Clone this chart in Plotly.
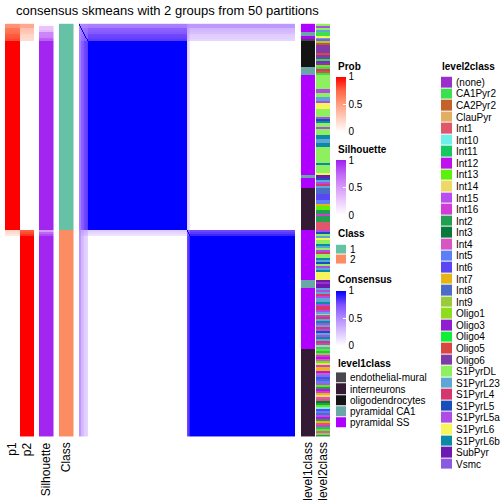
import numpy as np
import plotly.graph_objects as go

W = H = 504
FONT = "Liberation Sans, Arial, Helvetica, sans-serif"

def fx(x):
    return x / W

def fy(y):
    return 1 - y / H

# ---------------- data ----------------
title_text = "consensus skmeans with 2 groups from 50 partitions"
column_labels = ["p1", "p2", "Silhouette", "Class"]

class_names = ["1", "2"]
class_colors = ["#66C2A5", "#FC8D62"]

level1_names = ["endothelial-mural", "interneurons", "oligodendrocytes", "pyramidal CA1", "pyramidal SS"]
level1_colors = ["#4A474C", "#351A35", "#141414", "#6AA8A8", "#B000FF"]

level2_names = ["(none)", "CA1Pyr2", "CA2Pyr2", "ClauPyr", "Int1", "Int10", "Int11", "Int12", "Int13",
                "Int14", "Int15", "Int16", "Int2", "Int3", "Int4", "Int5", "Int6", "Int7", "Int8", "Int9",
                "Oligo1", "Oligo3", "Oligo4", "Oligo5", "Oligo6", "S1PyrDL", "S1PyrL23", "S1PyrL4",
                "S1PyrL5", "S1PyrL5a", "S1PyrL6", "S1PyrL6b", "SubPyr", "Vsmc"]
level2_colors = ["#9B2FCB", "#3CE04E", "#C4622A", "#E2AE64", "#E0566A", "#6EF0E8", "#14C863", "#C010EE",
                 "#5CF00A", "#F0D868", "#B84EEE", "#D03CD6", "#22A050", "#0A783A", "#D657C2", "#5A80F8",
                 "#5A46F2", "#E6B414", "#4A6EC8", "#9CCB3A", "#8EDC1E", "#8E1ED0", "#10EE38", "#D84840",
                 "#7E3CA8", "#8EF05E", "#5EA6D6", "#D4386E", "#1A4EBA", "#B04CE6", "#F6F65A", "#0A8AA6",
                 "#6C1AB0", "#8C5AE0"]

n_class1 = 104
n_class2 = 104

# samples with uncertain membership at the head of each class
p1_head_class1 = [0.55, 0.56, 0.68, 0.70, 0.72, 0.78, 0.79, 0.80, 0.82]
sil_head_class1 = [0.02, 0.30, 0.30, 0.35, 0.60, 0.60, 0.62, 0.75, 0.78]
p1_head_class2 = [0.22, 0.18, 0.12]
sil_head_class2 = [0.50, 0.75, 0.85]
sil_rest = 0.98

level1_runs = [
    ("pyramidal SS", 4), ("pyramidal CA1", 2), ("pyramidal SS", 2), ("endothelial-mural", 1),
    ("oligodendrocytes", 13), ("pyramidal CA1", 4), ("pyramidal SS", 50), ("pyramidal CA1", 2),
    ("pyramidal SS", 5), ("interneurons", 21),
    ("pyramidal SS", 25), ("pyramidal CA1", 4), ("pyramidal SS", 31), ("interneurons", 44),
]

level2_runs = [
    ("S1PyrDL", 1), ("S1PyrL5a", 1), ("S1PyrDL", 1), ("S1PyrL23", 1),
    ("CA1Pyr2", 2),
    ("S1PyrL6", 1), ("S1PyrL23", 1),
    ("Vsmc", 1),
    ("Oligo1", 1), ("Oligo5", 1), ("Oligo6", 4), ("Oligo5", 1), ("Oligo6", 2), ("Oligo4", 1),
    ("Oligo3", 1), ("Oligo6", 1), ("Oligo1", 1),
    ("CA1Pyr2", 1), ("S1PyrL4", 1), ("CA2Pyr2", 1), ("CA1Pyr2", 1),
    ("S1PyrDL", 7), ("S1PyrL5a", 2), ("S1PyrDL", 2), ("S1PyrL23", 2), ("S1PyrL5a", 1), ("S1PyrL6", 3),
    ("S1PyrDL", 4), ("S1PyrL5a", 1), ("S1PyrL5", 1), ("S1PyrL6b", 1), ("S1PyrDL", 2), ("S1PyrL5a", 1),
    ("S1PyrDL", 3), ("S1PyrL6b", 2), ("S1PyrL23", 2), ("S1PyrL6b", 2), ("S1PyrDL", 8), ("S1PyrL6b", 1),
    ("S1PyrDL", 4), ("S1PyrL6", 1),
    ("SubPyr", 2),
    ("S1PyrL5", 1), ("S1PyrL23", 1), ("S1PyrL5a", 1), ("S1PyrL4", 1), ("S1PyrL23", 1),
    ("Int8", 3), ("Int6", 3), ("Int5", 2), ("Int7", 1), ("Int13", 2), ("Int2", 2), ("Int16", 1),
    ("Int2", 3), ("Int1", 4),
    # class 2
    ("S1PyrL5a", 1), ("S1PyrL5", 1), ("S1PyrDL", 1), ("S1PyrL23", 1), ("S1PyrL6", 1), ("S1PyrDL", 2),
    ("S1PyrL6b", 1), ("S1PyrL23", 1), ("S1PyrDL", 1), ("S1PyrL5a", 1), ("S1PyrL4", 1), ("S1PyrDL", 2),
    ("S1PyrL6b", 1), ("S1PyrL23", 1), ("S1PyrL5", 1), ("S1PyrDL", 1), ("S1PyrL5a", 1), ("S1PyrL23", 1),
    ("S1PyrL6b", 1), ("S1PyrL6", 4),
    ("SubPyr", 1), ("(none)", 1), ("SubPyr", 2),
    ("S1PyrL23", 1), ("S1PyrL5a", 1), ("S1PyrL23", 1), ("S1PyrL4", 1), ("S1PyrL5a", 1), ("S1PyrL23", 2),
    ("S1PyrL6b", 1), ("S1PyrL5a", 1), ("S1PyrL4", 2), ("S1PyrL5a", 1), ("S1PyrL23", 1), ("S1PyrDL", 1),
    ("S1PyrL5a", 1), ("S1PyrL4", 1), ("S1PyrL23", 1), ("S1PyrL6b", 1), ("S1PyrL5a", 1), ("S1PyrL23", 1),
    ("S1PyrL4", 1), ("S1PyrL5a", 1), ("S1PyrL5", 1), ("S1PyrL23", 1), ("S1PyrL5a", 1), ("S1PyrL6b", 1),
    ("S1PyrL23", 1), ("S1PyrL4", 1), ("S1PyrL5a", 1), ("S1PyrDL", 1), ("S1PyrL23", 1),
    ("Int13", 1), ("Int11", 1), ("Int9", 1), ("Int16", 1), ("Int12", 1), ("Int4", 1), ("Int13", 1),
    ("Int14", 1), ("Int16", 1), ("Int7", 2), ("Int12", 1), ("Int4", 1), ("Int5", 1), ("Int6", 1),
    ("Int8", 1), ("Int5", 1), ("Int15", 1), ("Int13", 1), ("Int2", 1), ("Int12", 1), ("Int16", 1),
    ("Int7", 1), ("Int14", 1), ("Int4", 1), ("Int1", 1), ("Int3", 1), ("Int2", 1), ("Int13", 1),
    ("Int10", 1), ("Int6", 1), ("Int5", 1), ("Int8", 1), ("Int15", 1), ("Int12", 1), ("Int2", 1),
    ("Int7", 1), ("Int1", 1), ("Int16", 1), ("Int11", 1), ("Int13", 1), ("Int4", 1), ("Int9", 1),
    ("Int2", 1),
]

# ---------------- derived per-sample arrays ----------------
N = n_class1 + n_class2
p1 = np.array(p1_head_class1 + [1.0] * (n_class1 - len(p1_head_class1))
              + p1_head_class2 + [0.0] * (n_class2 - len(p1_head_class2)))
p2 = 1 - p1
sil = np.array(sil_head_class1 + [sil_rest] * (n_class1 - len(sil_head_class1))
               + sil_head_class2 + [sil_rest] * (n_class2 - len(sil_head_class2)))
cls = np.array([0] * n_class1 + [1] * n_class2)

def expand(runs, names):
    out = []
    for name, k in runs:
        out += [names.index(name)] * k
    out = (out + [out[-1]] * N)[:N]
    return np.array(out)

lv1 = expand(level1_runs, level1_names)
lv2 = expand(level2_runs, level2_names)

consensus = np.outer(p1, p1) + np.outer(p2, p2)
np.fill_diagonal(consensus, 1.0)

# ---------------- colours ----------------
red_scale = [[0, "#FFFFFF"], [0.25, "#FFCFBF"], [0.5, "#FF9E81"], [0.75, "#FF6746"], [1, "#FF0000"]]
purple_scale = [[0, "#FFFFFF"], [0.25, "#EDCDFD"], [0.5, "#D79BFA"], [0.75, "#BE66F5"], [1, "#A020F0"]]
blue_scale = [[0, "#FFFFFF"], [0.25, "#DCC5FF"], [0.5, "#B38BFF"], [0.75, "#7E51FF"], [1, "#0000FF"]]

def discrete(colors):
    k = len(colors)
    sc = []
    for i, c in enumerate(colors):
        sc.append([i / k, c])
        sc.append([(i + 1) / k, c])
    return sc

def col(v):
    return [[x] for x in v]

# ---------------- figure ----------------
TOP, BOT = 22.7, 437.5
fig = go.Figure()

columns = [  # (xaxis id, left px, right px)
    ("x", 5, 20), ("x2", 20, 34), ("x3", 39, 53.5), ("x4", 59, 73.5),
    ("x5", 79, 295), ("x6", 301, 315), ("x7", 316, 330),
]

def cbar(ytop, length):
    return dict(x=fx(336), xanchor="left", y=fy(ytop), yanchor="top", len=length, lenmode="pixels",
                thickness=10, thicknessmode="pixels", xpad=0, ypad=0, outlinewidth=0,
                tickvals=[0, 0.5, 1], ticktext=["0", "0.5", "1"], ticks="inside", tickcolor="white",
                ticklen=3, tickwidth=1, tickfont=dict(size=10, family=FONT, color="black"))

common = dict(hoverinfo="skip", y=list(range(N)))
fig.add_trace(go.Heatmap(z=col(p1), x=[0], xaxis="x", yaxis="y", colorscale=red_scale, zmin=0, zmax=1,
                         showscale=True, colorbar=cbar(76, 55), **common))
fig.add_trace(go.Heatmap(z=col(p2), x=[0], xaxis="x2", yaxis="y", colorscale=red_scale, zmin=0, zmax=1,
                         showscale=False, **common))
fig.add_trace(go.Heatmap(z=col(sil), x=[0], xaxis="x3", yaxis="y", colorscale=purple_scale, zmin=0, zmax=1,
                         showscale=True, colorbar=cbar(160, 55), **common))
fig.add_trace(go.Heatmap(z=col(cls), x=[0], xaxis="x4", yaxis="y", colorscale=discrete(class_colors),
                         zmin=-0.5, zmax=len(class_colors) - 0.5, showscale=False, **common))
fig.add_trace(go.Heatmap(z=consensus, x=list(range(N)), xaxis="x5", yaxis="y", colorscale=blue_scale,
                         zmin=0, zmax=1, showscale=True, colorbar=cbar(291, 55), **common))
fig.add_trace(go.Heatmap(z=col(lv1), x=[0], xaxis="x6", yaxis="y", colorscale=discrete(level1_colors),
                         zmin=-0.5, zmax=len(level1_colors) - 0.5, showscale=False, **common))
fig.add_trace(go.Heatmap(z=col(lv2), x=[0], xaxis="x7", yaxis="y", colorscale=discrete(level2_colors),
                         zmin=-0.5, zmax=len(level2_colors) - 0.5, showscale=False, **common))

layout = dict(
    width=W, height=H, margin=dict(l=0, r=0, t=0, b=0), paper_bgcolor="white", plot_bgcolor="white",
    font=dict(family=FONT, size=10, color="black"), showlegend=False,
    yaxis=dict(domain=[fy(BOT), fy(TOP)], range=[N - 0.5, -0.5], visible=False, anchor="x"),
)
for ax, l, r in columns:
    key = "xaxis" if ax == "x" else "xaxis" + ax[1:]
    rng = [-0.5, N - 0.5] if ax == "x5" else [-0.5, 0.5]
    layout[key] = dict(domain=[fx(l), fx(r)], range=rng, visible=False, anchor="y")

# discrete legends as small heatmaps with tick labels
legends = [  # (names, colors, xaxis, yaxis, left, right, top, bottom)
    (class_names, class_colors, "x8", "y2", 336, 346, 244.5, 264.5),
    (level1_names, level1_colors, "x9", "y3", 336, 346, 372.7, 429.3),
    (level2_names, level2_colors, "x10", "y4", 441, 452, 75.9, 470.8),
]
for names, colors, xa, ya, l, r, t, b in legends:
    k = len(names)
    fig.add_trace(go.Heatmap(z=[[i] for i in range(k)], x=[0], y=list(range(k)), xaxis=xa, yaxis=ya,
                             colorscale=discrete(colors), zmin=-0.5, zmax=k - 0.5, showscale=False,
                             ygap=1, hoverinfo="skip"))
    layout["xaxis" + xa[1:]] = dict(domain=[fx(l), fx(r)], range=[-0.5, 0.5], visible=False, anchor=ya)
    layout["yaxis" + ya[1:]] = dict(domain=[fy(b), fy(t)], range=[k - 0.5, -0.5], anchor=xa, side="right",
                                    tickvals=list(range(k)), ticktext=names, ticks="", showgrid=False,
                                    zeroline=False, showline=False, ticklabelstandoff=3,
                                    tickfont=dict(size=10, family=FONT, color="black"))

fig.update_layout(**layout)

ann = [dict(text=title_text, x=fx(167.5), y=fy(10), xanchor="center", yanchor="middle",
            font=dict(size=13, family=FONT, color="black"))]
for text, cx in zip(column_labels + ["level1class", "level2class"], [12.5, 27, 46, 66, 308, 323]):
    ann.append(dict(text=text, x=fx(cx), y=fy(441), xanchor="center", yanchor="top", textangle=-90,
                    font=dict(size=12, family=FONT, color="black")))
for text, x, y in [("Prob", 336, 65.5), ("Silhouette", 336, 149.5), ("Class", 336, 233), ("Consensus", 336, 279.5),
                   ("level1class", 336, 364), ("level2class", 440, 66)]:
    ann.append(dict(text="<b>" + text + "</b>", x=fx(x), y=fy(y), xanchor="left", yanchor="middle",
                    font=dict(size=10, family=FONT, color="black")))
for a in ann:
    a.update(xref="paper", yref="paper", showarrow=False)
fig.update_layout(annotations=ann)

fig.write_html("out.html", post_script="document.body.style.margin='0';",
               config={"displayModeBar": False})
